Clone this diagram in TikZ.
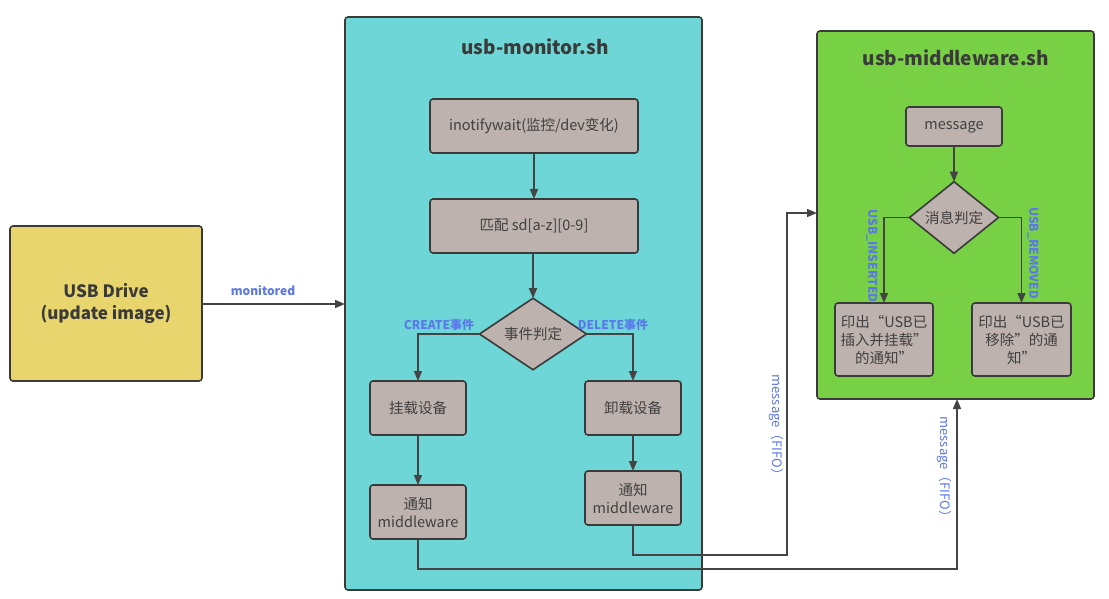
\documentclass[tikz,border=0pt]{standalone}
\usepackage{fontspec}
\setmainfont{Noto Sans CJK SC}
\usetikzlibrary{arrows.meta,shapes.geometric}
\definecolor{cyanbg}{HTML}{6ED6D6}
\definecolor{greenbg}{HTML}{78D044}
\definecolor{yellowbg}{HTML}{E8D56E}
\definecolor{graybox}{HTML}{BDB2AE}
\definecolor{edge}{HTML}{3A3A3A}
\definecolor{txt}{HTML}{404040}
\definecolor{lblue}{HTML}{5A78EC}
\definecolor{wire}{HTML}{444444}
\tikzset{
  container/.style={draw=edge, line width=1.6pt, rounded corners=3pt, anchor=north west, inner sep=0pt, outer sep=0pt},
  procbox/.style={draw=edge, line width=1.6pt, fill=graybox, rounded corners=3pt, anchor=north west, inner sep=0pt, outer sep=0pt},
  boxtext/.style={text=txt, font=\fontsize{14.5}{18}\selectfont, align=center},
  decide/.style={draw=edge, line width=1.6pt, fill=graybox, diamond, inner sep=0pt, outer sep=0pt, text=txt, font=\fontsize{14.5}{17}\selectfont},
  titletext/.style={text=edge, font=\fontsize{19}{22}\selectfont\bfseries},
  lbl/.style={text=lblue, font=\fontsize{12}{14}\selectfont\bfseries, inner sep=0pt},
  fifolbl/.style={text=lblue, font=\fontsize{13}{15}\selectfont, inner sep=0pt, rotate=-90},
  conn/.style={draw=wire, line width=1.6pt, -{Triangle[length=10pt,width=8pt]}}
}
\begin{document}
\begin{tikzpicture}[x=1pt,y=-1pt]
\useasboundingbox (0,0) rectangle (1109,599);
% containers
\node[container, fill=cyanbg, minimum width=357pt, minimum height=573pt] (mon) at (345,17) {};
\node[container, fill=greenbg, minimum width=277pt, minimum height=368pt] (mw) at (817,31) {};
\node[titletext] (montitle) at (535,47) {usb-monitor.sh};
\node[titletext] (mwtitle) at (956,58) {usb-middleware.sh};
% USB drive
\node[container, fill=yellowbg, minimum width=192pt, minimum height=155pt] (drive) at (10,226) {};
\node[text=edge, font=\fontsize{17}{22}\selectfont\bfseries, align=center] (drivetext) at (106,303) {USB Drive\\(update image)};
% monitor boxes
\node[procbox, minimum width=208pt, minimum height=54pt] (inot) at (430,99) {};
\node[boxtext] (inottext) at (534,126) {inotifywait(监控/dev变化)};
\node[procbox, minimum width=208pt, minimum height=54pt] (match) at (430,199) {};
\node[boxtext] (matchtext) at (534,226) {匹配 sd[a-z][0-9]};
\node[decide, minimum width=107pt, minimum height=70pt] (dia1) at (533,334) {事件判定};
\node[procbox, minimum width=96pt, minimum height=54pt] (mount) at (370,381) {};
\node[boxtext] (mounttext) at (418,408) {挂载设备};
\node[procbox, minimum width=96pt, minimum height=54pt] (umount) at (585,381) {};
\node[boxtext] (umounttext) at (633,408) {卸载设备};
\node[procbox, minimum width=96pt, minimum height=54pt] (n1) at (370,485) {};
\node[boxtext] (n1text) at (418,512) {通知\\middleware};
\node[procbox, minimum width=96pt, minimum height=54pt] (n2) at (585,471) {};
\node[boxtext] (n2text) at (633,498) {通知\\middleware};
% middleware boxes
\node[procbox, minimum width=96pt, minimum height=39pt] (msg) at (906,107) {};
\node[boxtext] (msgtext) at (954,127) {message};
\node[decide, minimum width=89pt, minimum height=69pt] (dia2) at (954,217.5) {消息判定};
\node[procbox, minimum width=98pt, minimum height=73pt] (ins) at (835,303) {};
\node[boxtext] (instext) at (884,339.5) {印出“USB已\\插入并挂载”\\的通知”};
\node[procbox, minimum width=99pt, minimum height=73pt] (rem) at (972,303) {};
\node[boxtext] (remtext) at (1021.5,339.5) {印出“USB已\\移除”的通\\知”};
% connectors
\draw[conn] (drive.east |- 0,304) -- (mon.west |- 0,304);
\node[lbl] (monlbl) at (263,291) {monitored};
\draw[conn] (inot.south -| 534,0) -- (match.north -| 534,0);
\draw[conn] (match.south -| dia1.north) -- (dia1.north);
\draw[conn] (dia1.west) -| (mount.north);
\draw[conn] (dia1.east) -| (umount.north);
\node[lbl] (crlbl) at (439,325) {CREATE事件};
\node[lbl] (dllbl) at (613,325) {DELETE事件};
\draw[conn] (mount.south) -- (n1.north);
\draw[conn] (umount.south) -- (n2.north);
\coordinate (k1) at (787,555);
\coordinate (e1) at (817,213);
\draw[conn] (n2.south) |- (k1) |- (e1);
\coordinate (k2) at (957,569);
\draw[conn] (n1.south) |- (k2) -- (k2 |- mw.south);
\node[fifolbl] (f1) at (776,428) {message（FIFO）};
\node[fifolbl] (f2) at (944,470) {message（FIFO）};
\draw[conn] (msg.south -| dia2.north) -- (dia2.north);
\draw[conn] (dia2.west) -| (ins.north);
\draw[conn] (dia2.east) -| (rem.north);
\node[lbl, rotate=-90] (inslbl) at (872,256) {USB\_INSERTED};
\node[lbl, rotate=-90] (remlbl) at (1033,253) {USB\_REMOVED};
\end{tikzpicture}
\end{document}
